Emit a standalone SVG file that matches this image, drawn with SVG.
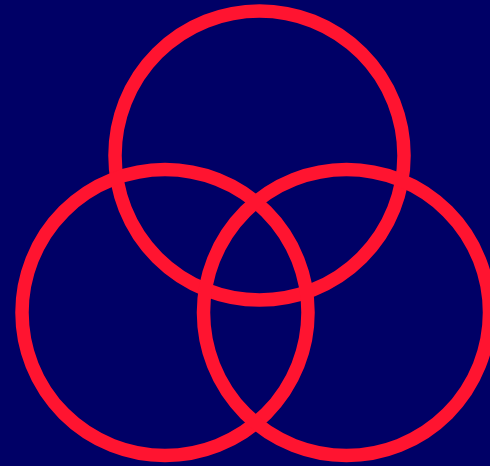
<svg xmlns="http://www.w3.org/2000/svg" width="490" height="466" viewBox="0 0 490 466">
<style>
.ring{fill:none;stroke:#ff1430;stroke-width:13.5}
</style>
<rect x="0" y="0" width="490" height="466" fill="#000066"/>
<g id="top"><circle class="ring" cx="259.5" cy="155.5" r="144.5"/></g>
<g id="left"><circle class="ring" cx="165" cy="312.5" r="143"/></g>
<g id="right"><circle class="ring" cx="346.5" cy="312.5" r="143"/></g>
<g id="connectors"></g>
</svg>
